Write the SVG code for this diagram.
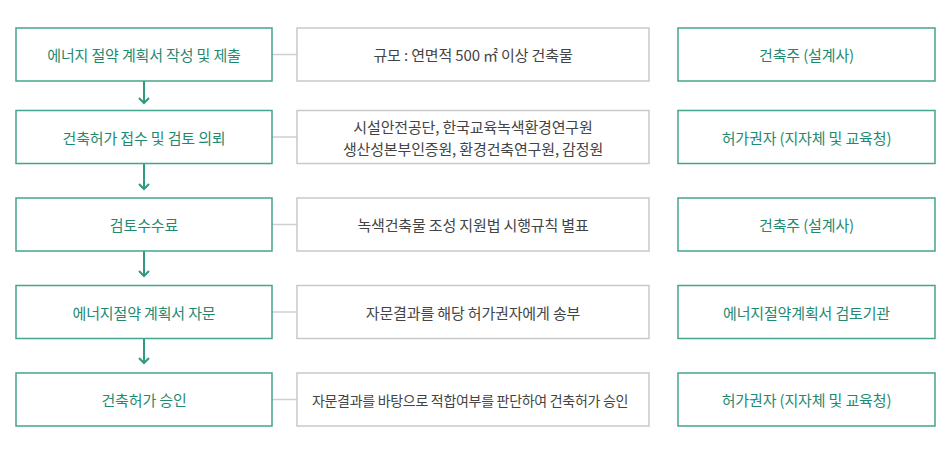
<svg xmlns="http://www.w3.org/2000/svg" width="950" height="450" viewBox="0 0 950 450">
<style>
text{font-family:"Noto Sans CJK KR","Noto Sans",sans-serif;font-size:15px;letter-spacing:-0.15px;text-anchor:middle;dominant-baseline:central}
.g rect{fill:#fff;stroke:#44a48d;stroke-width:1.5}
.g text{fill:#1f8a70}
.m rect{fill:#fff;stroke:#c9c9c9;stroke-width:1.5}
.m text{fill:#444}
.m text.tight{font-size:14px;letter-spacing:-0.3px}
.flow{stroke:#2f9a80;stroke-width:2;fill:none}
.link{stroke:#cfcfcf;stroke-width:1.5;fill:none}
</style>
<rect width="950" height="450" fill="#fff"/>
<g id="connectors">
<g class="flow">
<line x1="144" y1="81" x2="144" y2="103"/><polyline points="139,98 144,103 149,98"/>
<line x1="144" y1="164" x2="144" y2="189"/><polyline points="139,184 144,189 149,184"/>
<line x1="144" y1="251" x2="144" y2="276"/><polyline points="139,271 144,276 149,271"/>
<line x1="144" y1="339" x2="144" y2="363"/><polyline points="139,358 144,363 149,358"/>
</g>
<g class="link">
<line x1="272" y1="54.5" x2="297" y2="54.5"/>
<line x1="272" y1="137" x2="297" y2="137"/>
<line x1="272" y1="224.5" x2="297" y2="224.5"/>
<line x1="272" y1="312" x2="297" y2="312"/>
<line x1="272" y1="399.5" x2="297" y2="399.5"/>
</g>
</g>
<g id="step1" class="g"><rect x="16" y="28" width="256" height="53"/><text x="144" y="54.5">에너지 절약 계획서 작성 및 제출</text></g>
<g id="step2" class="g"><rect x="16" y="110.5" width="256" height="53"/><text x="144" y="137">건축허가 접수 및 검토 의뢰</text></g>
<g id="step3" class="g"><rect x="16" y="198" width="256" height="53"/><text x="144" y="224.5">검토수수료</text></g>
<g id="step4" class="g"><rect x="16" y="285.5" width="256" height="53"/><text x="144" y="312">에너지절약 계획서 자문</text></g>
<g id="step5" class="g"><rect x="16" y="373" width="256" height="53"/><text x="144" y="399.5">건축허가 승인</text></g>

<g id="desc1" class="m"><rect x="297" y="28" width="352" height="53"/><text x="473" y="54.5">규모 : 연면적 500 ㎡ 이상 건축물</text></g>
<g id="desc2" class="m"><rect x="297" y="110.5" width="352" height="53"/><text x="473" y="126">시설안전공단, 한국교육녹색환경연구원</text><text x="473" y="148">생산성본부인증원, 환경건축연구원, 감정원</text></g>
<g id="desc3" class="m"><rect x="297" y="198" width="352" height="53"/><text x="473" y="224.5">녹색건축물 조성 지원법 시행규칙 별표</text></g>
<g id="desc4" class="m"><rect x="297" y="285.5" width="352" height="53"/><text x="473" y="312">자문결과를 해당 허가권자에게 송부</text></g>
<g id="desc5" class="m"><rect x="297" y="373" width="352" height="53"/><text class="tight" x="470" y="399.5">자문결과를 바탕으로 적합여부를 판단하여 건축허가 승인</text></g>

<g id="actor1" class="g"><rect x="678" y="28" width="257" height="53"/><text x="806.5" y="54.5">건축주 (설계사)</text></g>
<g id="actor2" class="g"><rect x="678" y="110.5" width="257" height="53"/><text x="806.5" y="137">허가권자 (지자체 및 교육청)</text></g>
<g id="actor3" class="g"><rect x="678" y="198" width="257" height="53"/><text x="806.5" y="224.5">건축주 (설계사)</text></g>
<g id="actor4" class="g"><rect x="678" y="285.5" width="257" height="53"/><text x="806.5" y="312">에너지절약계획서 검토기관</text></g>
<g id="actor5" class="g"><rect x="678" y="373" width="257" height="53"/><text x="806.5" y="399.5">허가권자 (지자체 및 교육청)</text></g>
</svg>
